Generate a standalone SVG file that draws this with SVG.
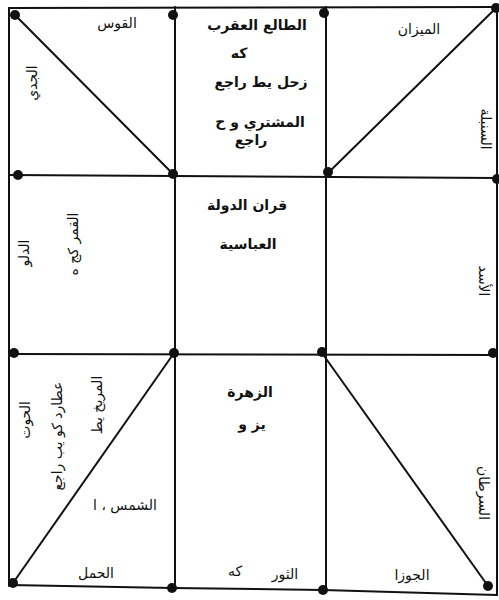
<svg xmlns="http://www.w3.org/2000/svg" width="499" height="600" viewBox="0 0 499 600">
<style>
.ln{stroke:#111;stroke-width:2;fill:none;stroke-linecap:round}
.dot{fill:#111}
text{font-family:"DejaVu Sans",sans-serif;font-size:14px;fill:#111;text-anchor:middle}
.b{font-weight:bold}
</style>
<rect width="499" height="600" fill="#fff"/>
<g id="connectors">
<polyline class="ln" points="9,8 497,7"/>
<polyline class="ln" points="9,175 497,178"/>
<polyline class="ln" points="9,354 497,355"/>
<polyline class="ln" points="10,585 172,588 323,590 497,595"/>
<polyline class="ln" points="9,8 9,586"/>
<polyline class="ln" points="175,7 175,589"/>
<polyline class="ln" points="326,7 326,591"/>
<polyline class="ln" points="497,7 497,595"/>
<line class="ln" x1="15" y1="15" x2="173" y2="174"/>
<line class="ln" x1="329" y1="172" x2="496" y2="8"/>
<line class="ln" x1="13" y1="583" x2="174" y2="353"/>
<line class="ln" x1="322" y1="353" x2="488" y2="586"/>
</g>
<g id="dots">
<circle class="dot" cx="15" cy="15" r="5"/>
<circle class="dot" cx="173" cy="15" r="5"/>
<circle class="dot" cx="324" cy="13" r="5"/>
<circle class="dot" cx="496" cy="8" r="5"/>
<circle class="dot" cx="18" cy="175" r="5"/>
<circle class="dot" cx="173" cy="174" r="5"/>
<circle class="dot" cx="328" cy="172" r="5"/>
<circle class="dot" cx="497" cy="179" r="5"/>
<circle class="dot" cx="14" cy="353" r="5"/>
<circle class="dot" cx="174" cy="353" r="5"/>
<circle class="dot" cx="322" cy="352" r="5"/>
<circle class="dot" cx="493" cy="353" r="5"/>
<circle class="dot" cx="13" cy="583" r="5"/>
<circle class="dot" cx="172" cy="588" r="5"/>
<circle class="dot" cx="323" cy="590" r="5"/>
<circle class="dot" cx="488" cy="586" r="5"/>
</g>
<g id="cell-top-left">
<text x="117" y="28">القوس</text>
<text transform="translate(37,83) rotate(-90)">الجدي</text>
</g>
<g id="cell-top-center">
<text class="b" x="257" y="30">الطالع العقرب</text>
<text class="b" x="239" y="58">كه</text>
<text class="b" x="261" y="87">زحل يط راجع</text>
<text class="b" x="260" y="127">المشتري و ح</text>
<text class="b" x="251" y="145">راجع</text>
</g>
<g id="cell-top-right">
<text x="419" y="34">الميزان</text>
<text transform="translate(481,129) rotate(90)">السنبلة</text>
</g>
<g id="cell-middle-left">
<text transform="translate(29,253) rotate(-90)">الدلو</text>
<text transform="translate(78,244) rotate(-90)">القمر كج ه</text>
</g>
<g id="cell-center">
<text class="b" x="247" y="210">قران الدولة</text>
<text class="b" x="248" y="249">العباسية</text>
</g>
<g id="cell-middle-right">
<text transform="translate(479,281) rotate(90)">الأسد</text>
</g>
<g id="cell-bottom-left">
<text transform="translate(30,420) rotate(-90)">الحوت</text>
<text transform="translate(62,436) rotate(-90)">عطارد كو يب راجع</text>
<text transform="translate(102,405) rotate(-90)">المريخ يط</text>
<text x="125" y="510">الشمس ، ا</text>
<text x="96" y="578">الحمل</text>
</g>
<g id="cell-bottom-center">
<text class="b" x="250" y="397">الزهرة</text>
<text class="b" x="252" y="429">يز و</text>
<text x="285" y="579">الثور</text>
<text x="235" y="576">كه</text>
</g>
<g id="cell-bottom-right">
<text transform="translate(479,493) rotate(90)">السرطان</text>
<text x="412" y="580">الجوزا</text>
</g>
</svg>
